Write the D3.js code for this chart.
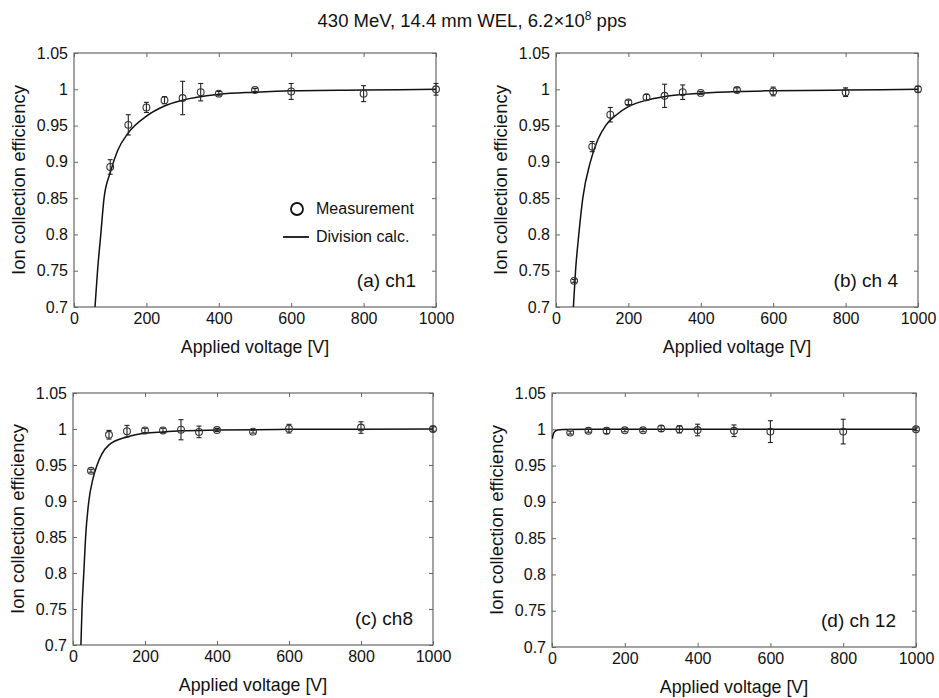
<!DOCTYPE html>
<html>
<head>
<meta charset="utf-8">
<script src="https://cdn.jsdelivr.net/npm/d3@7"></script>
<style>
  body { margin: 0; background: #fff; }
  svg text { font-family: "Liberation Sans", Arial, sans-serif; fill: #111; }
</style>
</head>
<body>
<div class="chart"></div>
<script>
const title = '430 MeV, 14.4 mm WEL, 6.2×10';
const xTicks = [0, 200, 400, 600, 800, 1000];
const yTicks = [0.7, 0.75, 0.8, 0.85, 0.9, 0.95, 1, 1.05];
const yTickLabels = ['0.7', '0.75', '0.8', '0.85', '0.9', '0.95', '1', '1.05'];

// (a) ch1
const ch1Voltage = [100, 150, 200, 250, 300, 350, 400, 500, 600, 800, 1000];
const ch1Eff = [0.893, 0.951, 0.975, 0.985, 0.988, 0.996, 0.994, 0.999, 0.997, 0.994, 1.0];
const ch1Err = [0.010, 0.014, 0.007, 0.005, 0.023, 0.012, 0.003, 0.002, 0.011, 0.011, 0.008];
const ch1CalcVoltage = [58, 65, 74, 83, 100, 120, 150, 200, 250, 300, 400, 500, 600, 800, 1000];
const ch1CalcEff = [0.70, 0.75, 0.80, 0.85, 0.885, 0.915, 0.94, 0.963, 0.977, 0.985, 0.993, 0.996, 0.998, 0.999, 1.0];

// (b) ch 4
const ch4Voltage = [50, 100, 150, 200, 250, 300, 350, 400, 500, 600, 800, 1000];
const ch4Eff = [0.736, 0.921, 0.965, 0.982, 0.989, 0.991, 0.996, 0.995, 0.999, 0.997, 0.996, 1.0];
const ch4Err = [0.002, 0.007, 0.010, 0.003, 0.004, 0.016, 0.010, 0.002, 0.003, 0.006, 0.006, 0.004];
const ch4CalcVoltage = [48, 54, 63, 74, 95, 115, 137, 170, 200, 250, 300, 400, 500, 600, 800, 1000];
const ch4CalcEff = [0.70, 0.75, 0.80, 0.85, 0.90, 0.93, 0.95, 0.966, 0.976, 0.985, 0.99, 0.9945, 0.997, 0.998, 0.999, 1.0];

// (c) ch8
const ch8Voltage = [50, 100, 150, 200, 250, 300, 350, 400, 500, 600, 800, 1000];
const ch8Eff = [0.942, 0.992, 0.997, 0.998, 0.998, 0.999, 0.996, 0.9986, 0.9963, 1.0005, 1.002, 1.0];
const ch8Err = [0.002, 0.006, 0.008, 0.003, 0.003, 0.014, 0.008, 0.002, 0.002, 0.006, 0.008, 0.003];
const ch8CalcVoltage = [22, 25, 30, 35, 44, 55, 67, 80, 100, 150, 200, 250, 300, 400, 600, 800, 1000];
const ch8CalcEff = [0.70, 0.75, 0.80, 0.85, 0.90, 0.93, 0.95, 0.965, 0.978, 0.989, 0.994, 0.996, 0.9975, 0.9986, 0.9995, 0.9998, 1.0];

// (d) ch 12
const ch12Voltage = [50, 100, 150, 200, 250, 300, 350, 400, 500, 600, 800, 1000];
const ch12Eff = [0.9954, 0.998, 0.998, 0.9986, 0.9986, 1.001, 1.0, 0.999, 0.998, 0.9968, 0.9968, 1.0];
const ch12Err = [0.002, 0.002, 0.004, 0.002, 0.002, 0.004, 0.005, 0.008, 0.008, 0.015, 0.017, 0.002];
const ch12CalcVoltage = [1, 4, 8, 15, 30, 100, 1000];
const ch12CalcEff = [0.987, 0.994, 0.997, 0.999, 0.9997, 1.0, 1.0];

const panels = [
  { label: '(a) ch1', v: ch1Voltage, eff: ch1Eff, err: ch1Err, cv: ch1CalcVoltage, ce: ch1CalcEff,
    left: 74, right: 436, top: 53, bottom: 307, legend: true },
  { label: '(b) ch 4', v: ch4Voltage, eff: ch4Eff, err: ch4Err, cv: ch4CalcVoltage, ce: ch4CalcEff,
    left: 556, right: 918, top: 53, bottom: 307 },
  { label: '(c) ch8', v: ch8Voltage, eff: ch8Eff, err: ch8Err, cv: ch8CalcVoltage, ce: ch8CalcEff,
    left: 73, right: 433, top: 393, bottom: 645 },
  { label: '(d) ch 12', v: ch12Voltage, eff: ch12Eff, err: ch12Err, cv: ch12CalcVoltage, ce: ch12CalcEff,
    left: 552, right: 916, top: 393, bottom: 647 }
];

const svg = d3
  .select('.chart')
  .append('svg')
  .attr('width', 939)
  .attr('height', 698);

// Title with superscript
const t = svg
  .append('text')
  .attr('x', 472)
  .attr('y', 27)
  .attr('text-anchor', 'middle')
  .attr('font-size', 18.5);
t.append('tspan').text(title);
t.append('tspan').attr('font-size', 12).attr('dy', -7).text('8');
t.append('tspan').attr('dy', 7).text(' pps');

const axisColor = '#666';

panels.forEach((p, k) => {
  const x = d3.scaleLinear().domain([0, 1000]).range([p.left, p.right]);
  const y = d3.scaleLinear().domain([0.7, 1.05]).range([p.bottom, p.top]);
  const g = svg.append('g');

  g.append('clipPath')
    .attr('id', 'clip' + k)
    .append('rect')
    .attr('x', p.left)
    .attr('y', p.top)
    .attr('width', p.right - p.left)
    .attr('height', p.bottom - p.top);

  // Axes (inward ticks, box style)
  const fmtY = (d, i) => yTickLabels[i];
  const bottomAxis = g
    .append('g')
    .attr('transform', 'translate(0,' + p.bottom + ')')
    .call(d3.axisBottom(x).tickValues(xTicks).tickSize(-4).tickPadding(6).tickFormat(d3.format('d')));
  const leftAxis = g
    .append('g')
    .attr('transform', 'translate(' + p.left + ',0)')
    .call(d3.axisLeft(y).tickValues(yTicks).tickSize(-4).tickPadding(6).tickFormat(fmtY));
  const topAxis = g
    .append('g')
    .attr('transform', 'translate(0,' + p.top + ')')
    .call(d3.axisTop(x).tickValues(xTicks).tickSize(-4).tickFormat(''));
  const rightAxis = g
    .append('g')
    .attr('transform', 'translate(' + p.right + ',0)')
    .call(d3.axisRight(y).tickValues(yTicks).tickSize(-4).tickFormat(''));

  [bottomAxis, leftAxis, topAxis, rightAxis].forEach(a => {
    a.select('.domain').remove();
    a.selectAll('line').attr('stroke', axisColor);
    a.selectAll('text').attr('font-size', 16).attr('fill', '#111')
      .style('font-family', '"Liberation Sans", Arial, sans-serif');
  });

  g.append('rect')
    .attr('x', p.left)
    .attr('y', p.top)
    .attr('width', p.right - p.left)
    .attr('height', p.bottom - p.top)
    .attr('fill', 'none')
    .attr('stroke', axisColor)
    .attr('stroke-width', 1.2);

  // Division calc. curve
  const calc = p.cv.map((v, i) => ({ v: v, e: p.ce[i] }));
  g.append('path')
    .datum(calc)
    .attr('clip-path', 'url(#clip' + k + ')')
    .attr('fill', 'none')
    .attr('stroke', '#111')
    .attr('stroke-width', 1.5)
    .attr('d', d3.line().x(d => x(d.v)).y(d => y(d.e)).curve(d3.curveMonotoneX));

  // Measurement points with error bars
  const pts = p.v.map((v, i) => ({ v: v, e: p.eff[i], s: p.err[i] }));
  const pg = g.selectAll('.pt').data(pts).enter().append('g');
  pg.append('line')
    .attr('x1', d => x(d.v)).attr('x2', d => x(d.v))
    .attr('y1', d => y(d.e - d.s)).attr('y2', d => y(d.e + d.s))
    .attr('stroke', '#222').attr('stroke-width', 1.1);
  [-1, 1].forEach(sgn => {
    pg.append('line')
      .attr('x1', d => x(d.v) - 2.5).attr('x2', d => x(d.v) + 2.5)
      .attr('y1', d => y(d.e + sgn * d.s)).attr('y2', d => y(d.e + sgn * d.s))
      .attr('stroke', '#222').attr('stroke-width', 1.1);
  });
  pg.append('circle')
    .attr('cx', d => x(d.v))
    .attr('cy', d => y(d.e))
    .attr('r', 3.4)
    .attr('fill', 'none')
    .attr('stroke', '#333')
    .attr('stroke-width', 1.1);

  // Panel label
  g.append('text')
    .attr('x', p.right - 20)
    .attr('y', p.bottom - 20)
    .attr('text-anchor', 'end')
    .attr('font-size', 19)
    .text(p.label);

  // Axis labels
  g.append('text')
    .attr('x', (p.left + p.right) / 2)
    .attr('y', p.bottom + 46)
    .attr('text-anchor', 'middle')
    .attr('font-size', 17.8)
    .text('Applied voltage [V]');
  g.append('text')
    .attr('transform', 'translate(' + (p.left - 49) + ',' + (p.top + p.bottom) / 2 + ') rotate(-90)')
    .attr('text-anchor', 'middle')
    .attr('font-size', 18.5)
    .text('Ion collection efficiency');

  // Legend
  if (p.legend) {
    const lg = g.append('g');
    lg.append('circle')
      .attr('cx', 297).attr('cy', 209).attr('r', 6)
      .attr('fill', 'none').attr('stroke', '#111').attr('stroke-width', 1.8);
    lg.append('text').attr('x', 316).attr('y', 214).attr('font-size', 16).text('Measurement');
    lg.append('line')
      .attr('x1', 283).attr('x2', 309).attr('y1', 237).attr('y2', 237)
      .attr('stroke', '#111').attr('stroke-width', 1.8);
    lg.append('text').attr('x', 316).attr('y', 242).attr('font-size', 16).text('Division calc.');
  }
});
</script>
</body>
</html>
